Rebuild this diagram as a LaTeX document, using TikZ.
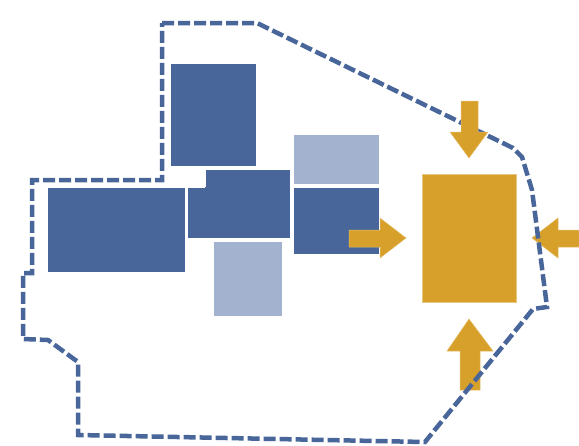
\documentclass[tikz,border=0pt]{standalone}
\definecolor{dblue}{HTML}{48669A}
\definecolor{lblue}{HTML}{A3B3CF}
\definecolor{gold}{HTML}{D7A02A}
\tikzset{
  blk/.style={fill=dblue, draw=white, line width=0.8pt},
  lblk/.style={fill=lblue, draw=white, line width=0.8pt},
  gblk/.style={fill=gold, draw=gold!60!white, line width=0.6pt},
  arr/.style={fill=gold, draw=gold!70!white, line width=0.5pt},
  outline/.style={draw=dblue, line width=4.5pt, dash pattern=on 12pt off 4pt, line join=miter}
}
\begin{document}
\begin{tikzpicture}[x=1pt,y=-1pt]
\useasboundingbox (0,0) rectangle (579,445);
% blocks
\path[blk] (170,63) rectangle (256,166);
\path[blk] (47,187) rectangle (185,272);
\path[blk] (205,169) rectangle (290,238);
\path[fill=dblue] (187,187) rectangle (290,238);
\draw[white, line width=0.8pt] (205,187) -- (187,187) -- (187,238) -- (290,238);
\path[lblk] (293,134) rectangle (379,184);
\path[blk] (293,187) rectangle (379,254);
\path[lblk] (213,241) rectangle (282,316);
\path[gblk] (422,174) rectangle (516,302);
% arrows under the outline
\path[arr] (349,230) -- (380,230) -- (380,218) -- (406,238) -- (380,258) -- (380,247) -- (349,247) -- cycle;
\path[arr] (579,230) -- (558,230) -- (558,218) -- (532,238) -- (558,258) -- (558,247) -- (579,247) -- cycle;
\path[arr] (460,390) -- (460,351) -- (447,351) -- (469,319) -- (493,351) -- (480,351) -- (480,390) -- cycle;
% outline
\draw[outline] (162,23) -- (257,23) -- (513,148) -- (522,157) -- (532,190) -- (547,307) -- (533,309) -- (425,442) -- (78,435) -- (78,362) -- (48,340) -- (23,339) -- (23,273) -- (32,273) -- (32,180) -- (162,180) -- cycle;
% top arrow over the outline
\path[arr] (461,101) -- (478,101) -- (478,132) -- (488,132) -- (469,158) -- (450,132) -- (461,132) -- cycle;
\end{tikzpicture}
\end{document}
